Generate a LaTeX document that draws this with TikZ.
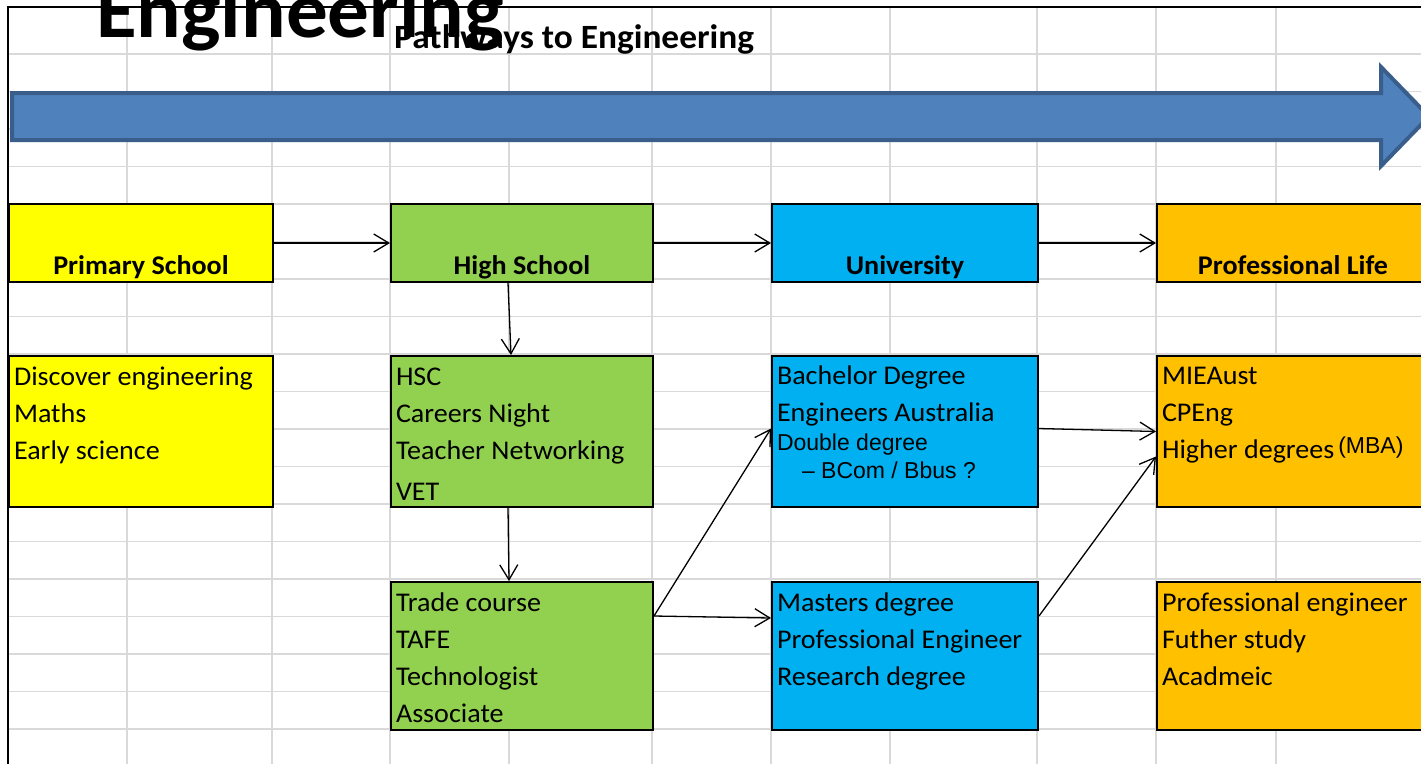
\documentclass[tikz,border=0pt]{standalone}
\usepackage{fontspec}
\setmainfont{Carlito}[FakeStretch=1.04]
\newfontfamily\arialfont{Liberation Sans}
\newcommand\arialnote{\arialfont\fontsize{23}{28}\selectfont}
\usetikzlibrary{arrows.meta, positioning, calc}
\definecolor{pathyellow}{HTML}{FFFF00}
\definecolor{pathgreen}{HTML}{92D050}
\definecolor{pathblue}{HTML}{00B0F0}
\definecolor{pathorange}{HTML}{FFC000}
\definecolor{bandfill}{HTML}{4F81BD}
\definecolor{bandline}{HTML}{3A5E8C}
\definecolor{gridgray}{HTML}{D9D9D9}

\begin{document}
\begin{tikzpicture}[
    x=1pt, y=-1pt,
    gridline/.style={draw=gridgray, line width=1.3pt},
    box/.style={draw=black, line width=2pt, inner sep=0pt, anchor=north west},
    head/.style={box, font=\fontsize{27}{37}\selectfont\bfseries, text height=70pt, text depth=8pt},
    tall/.style={box, font=\fontsize{27}{37}\selectfont, align=flush left, inner xsep=5pt, text height=29pt, text depth=122pt},
    low/.style={tall, text depth=119pt},
    link/.style={-{Straight Barb[length=15pt, width=18pt]}, line width=1.3pt}
]
\useasboundingbox (0,0) rectangle (1421,764);
\clip (0,0) rectangle (1421,764);
\fill[white] (0,0) rectangle (1421,764);

% sheet grid
\foreach \k in {0,...,18}
    \draw[gridline] (8,{54+37.5*\k}) -- (1421,{54+37.5*\k});
\foreach \x in {127,272,390,509,652,771,890,1037,1156,1276}
    \draw[gridline] (\x,7) -- (\x,764);
\draw[line width=1.8pt] (8,764) -- (8,7) -- (1421,7);

% timeline band
\filldraw[fill=bandfill, draw=bandline, line width=4pt, line join=miter]
    (12,93) -- (1381,93) -- (1381,67) -- (1429,116.5) -- (1381,166) -- (1381,140) -- (12,140) -- cycle;

\node[font=\fontsize{80}{80}\selectfont\bfseries, anchor=base west, inner sep=0pt] (bigword) at (96,37) {Engineering};
\node[font=\fontsize{34}{40}\selectfont\bfseries, anchor=base west, inner sep=0pt] (heading) at (394,48) {Pathways to Engineering};

% stages
\node[head, fill=pathyellow, minimum width=264pt] (prim) at (8,203) {Primary School};
\node[head, fill=pathgreen, minimum width=262pt] (high) at (390,203) {High School};
\node[head, fill=pathblue, minimum width=266pt] (uni) at (771,203) {University};
\node[head, fill=pathorange, minimum width=272pt] (prof) at (1156,203) {Professional Life};

% what happens at each stage
\node[tall, fill=pathyellow, text width=254pt] (discover) at (8,355) {Discover engineering\\Maths\\Early science};
\node[tall, fill=pathgreen, text width=252pt] (hsc) at (390,355) {HSC\\Careers Night\\Teacher Networking\\[4pt]VET};
\node[low, fill=pathgreen, text width=252pt] (trade) at (390,581) {Trade course\\TAFE\\Technologist\\Associate};
\node[tall, fill=pathblue, text width=256pt, text height=28pt, text depth=123pt] (bach) at (771,355)
    {Bachelor Degree\\Engineers Australia\\[-8pt]{\arialnote Double degree}\\[-9pt]\hspace*{25pt}{\arialnote – BCom / Bbus ?}};
\node[low, fill=pathblue, text width=256pt] (mast) at (771,581) {Masters degree\\Professional Engineer\\Research degree};
\node[tall, fill=pathorange, text width=262pt, text height=28pt, text depth=123pt] (miea) at (1156,355)
    {MIEAust\\CPEng\\Higher degrees\hspace{4pt}\raisebox{5pt}{\arialnote (MBA)}};
\node[low, fill=pathorange, text width=262pt] (proeng) at (1156,581) {Professional engineer\\Futher study\\Acadmeic};

\draw[link] (prim.east) -- (high.west);
\draw[link] (high.east) -- (uni.west);
\draw[link] (uni.east) -- (prof.west);
\draw[link] ([xshift=-14pt]high.south) -- ([xshift=-11pt]hsc.north);
\draw[link] ([xshift=-14pt]hsc.south) -- ([xshift=-13pt]trade.north);
\draw[link] ([yshift=40pt]trade.east) -- ([yshift=3pt]bach.west);
\draw[link] ([yshift=40pt]trade.east) -- ([yshift=38pt]mast.west);
\draw[link] ([yshift=3pt]bach.east) -- (miea.west);
\draw[link] ([yshift=40pt]mast.east) -- ([yshift=-25pt]miea.west);
\end{tikzpicture}
\end{document}
